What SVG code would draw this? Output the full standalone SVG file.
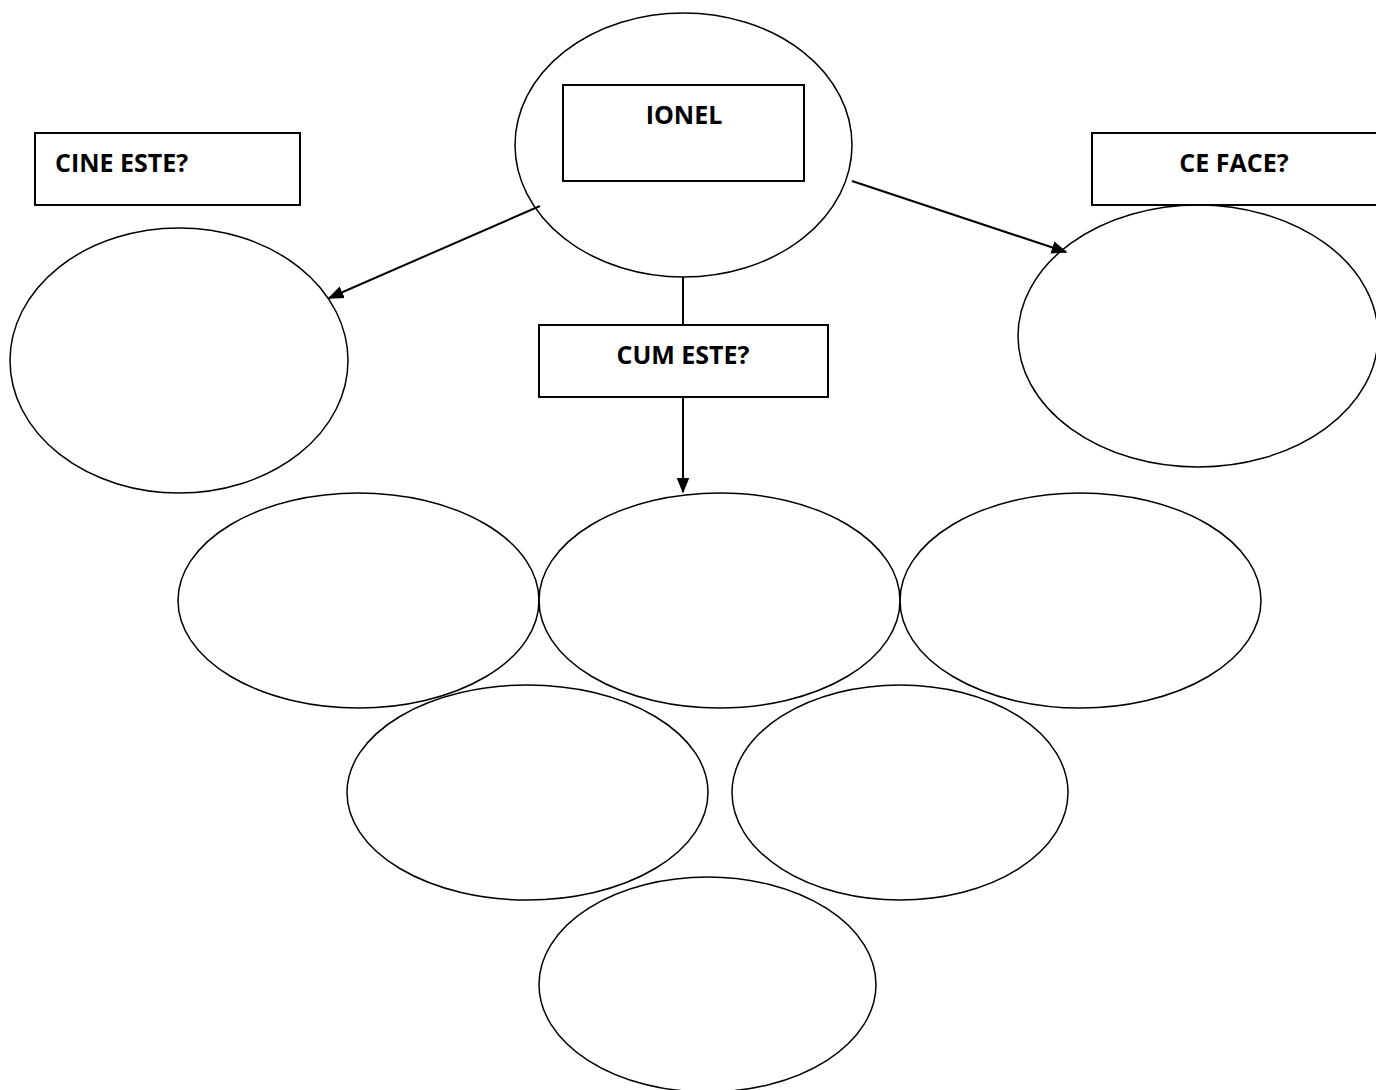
<svg xmlns="http://www.w3.org/2000/svg" width="1376" height="1090" viewBox="0 0 1376 1090">
<style>
  .shape { fill: none; stroke: #000; stroke-width: 1.5; }
  .box { fill: #fff; stroke: #000; stroke-width: 2; }
  .lbl { font-family: "Open Sans", "Liberation Sans", sans-serif; font-weight: bold; font-size: 25px; fill: #000; }
  .conn { stroke: #000; stroke-width: 2; fill: none; }
</style>
<defs>
  <marker id="arrL" viewBox="0 0 10 10" refX="9" refY="5" markerWidth="16" markerHeight="16" markerUnits="userSpaceOnUse" orient="auto">
    <path d="M0,1 L10,5 L0,9 z" fill="#000"/>
  </marker>
</defs>
<rect width="1376" height="1090" fill="#fff"/>
<g id="connectors">
  <line class="conn" x1="540" y1="206" x2="329" y2="298" marker-end="url(#arrL)"/>
  <line class="conn" x1="852" y1="181" x2="1066" y2="252" marker-end="url(#arrL)"/>
  <line class="conn" x1="683" y1="277" x2="683" y2="325"/>
  <line class="conn" x1="683" y1="397" x2="683" y2="492" marker-end="url(#arrL)"/>
</g>
<g id="node-ionel">
  <ellipse class="shape" cx="683.5" cy="145" rx="168.5" ry="132"/>
  <rect class="box" x="563" y="85" width="241" height="96"/>
  <text class="lbl" x="684" y="124" text-anchor="middle">IONEL</text>
</g>
<g id="node-cine">
  <rect class="box" x="35" y="133" width="265" height="72"/>
  <text class="lbl" x="55" y="172">CINE ESTE?</text>
</g>
<g id="node-cine-answer">
  <ellipse class="shape" cx="179" cy="360.5" rx="169" ry="132.5"/>
</g>
<g id="node-ceface-answer">
  <ellipse class="shape" cx="1198" cy="336" rx="180" ry="131"/>
</g>
<g id="node-ceface">
  <rect class="box" x="1092" y="133" width="290" height="72"/>
  <text class="lbl" x="1234" y="172" text-anchor="middle">CE FACE?</text>
</g>
<g id="node-cum">
  <rect class="box" x="539" y="325" width="289" height="72"/>
  <text class="lbl" x="683" y="364" text-anchor="middle">CUM ESTE?</text>
</g>
<g id="node-cum-1"><ellipse class="shape" cx="358.5" cy="600.5" rx="180.5" ry="107.5"/></g>
<g id="node-cum-2"><ellipse class="shape" cx="719.5" cy="600.5" rx="180.5" ry="107.5"/></g>
<g id="node-cum-3"><ellipse class="shape" cx="1080.5" cy="600.5" rx="180.5" ry="107.5"/></g>
<g id="node-cum-4"><ellipse class="shape" cx="527.5" cy="792.5" rx="180.5" ry="107.5"/></g>
<g id="node-cum-5"><ellipse class="shape" cx="900" cy="792.5" rx="168" ry="107.5"/></g>
<g id="node-cum-6"><ellipse class="shape" cx="707.5" cy="984.5" rx="168.5" ry="107.5"/></g>
</svg>
